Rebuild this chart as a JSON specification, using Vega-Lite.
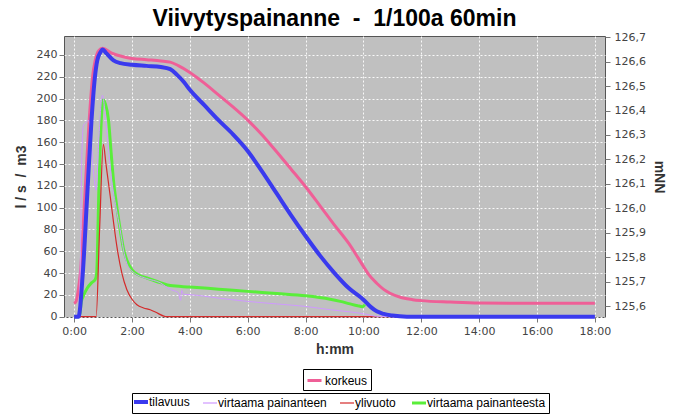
{
  "$schema": "https://vega.github.io/schema/vega-lite/v6.json",
  "width": 541,
  "height": 281,
  "autosize": {"type": "none"},
  "padding": {"left": 64, "top": 36, "right": 73, "bottom": 100},
  "background": "white",
  "title": {
    "text": "Viivytyspainanne \u00a0-\u00a0 1/100a 60min",
    "font": "Liberation Sans",
    "fontSize": 23,
    "fontWeight": "bold",
    "color": "black",
    "anchor": "middle",
    "offset": 9,
    "dy": 9
  },
  "config": {
    "view": {"fill": "#c0c0c0", "stroke": "#555555", "strokeWidth": 1},
    "axis": {
      "labelFont": "DejaVu Sans",
      "labelFontSize": 11,
      "labelColor": "#444444",
      "titleFont": "Liberation Sans",
      "titleFontSize": 14,
      "titleFontWeight": "bold",
      "titleColor": "#333333",
      "tickColor": "#777777",
      "tickSize": 5,
      "domain": false,
      "gridColor": "#ffffff",
      "gridDash": [2, 2],
      "gridOpacity": 0.9,
      "labelPadding": 2
    },
    "legend": {
      "orient": "none",
      "direction": "horizontal",
      "strokeColor": "black",
      "fillColor": "white",
      "padding": 3,
      "labelFont": "Liberation Sans",
      "labelFontSize": 12,
      "labelColor": "black",
      "symbolType": "stroke",
      "symbolSize": 196,
      "columnPadding": 10,
      "labelOffset": 2,
      "labelLimit": 300,
      "title": null
    }
  },
  "datasets": {
    "level": [
      {"s": "korkeus", "t": 0, "v": 125.61},
      {"s": "korkeus", "t": 0.07, "v": 125.62},
      {"s": "korkeus", "t": 0.15, "v": 125.67},
      {"s": "korkeus", "t": 0.22, "v": 125.74},
      {"s": "korkeus", "t": 0.37, "v": 126.05},
      {"s": "korkeus", "t": 0.52, "v": 126.36},
      {"s": "korkeus", "t": 0.64, "v": 126.54},
      {"s": "korkeus", "t": 0.72, "v": 126.6},
      {"s": "korkeus", "t": 0.85, "v": 126.645},
      {"s": "korkeus", "t": 0.98, "v": 126.655},
      {"s": "korkeus", "t": 1.3, "v": 126.635},
      {"s": "korkeus", "t": 1.7, "v": 126.62},
      {"s": "korkeus", "t": 2.0, "v": 126.613},
      {"s": "korkeus", "t": 2.5, "v": 126.608},
      {"s": "korkeus", "t": 3.0, "v": 126.603},
      {"s": "korkeus", "t": 3.32, "v": 126.598},
      {"s": "korkeus", "t": 3.6, "v": 126.584},
      {"s": "korkeus", "t": 4.0, "v": 126.556},
      {"s": "korkeus", "t": 4.5, "v": 126.512},
      {"s": "korkeus", "t": 5.0, "v": 126.463},
      {"s": "korkeus", "t": 5.5, "v": 126.414},
      {"s": "korkeus", "t": 6.0, "v": 126.361},
      {"s": "korkeus", "t": 6.5, "v": 126.3},
      {"s": "korkeus", "t": 7.0, "v": 126.231},
      {"s": "korkeus", "t": 7.5, "v": 126.16},
      {"s": "korkeus", "t": 8.0, "v": 126.088},
      {"s": "korkeus", "t": 8.5, "v": 126.01},
      {"s": "korkeus", "t": 9.0, "v": 125.931},
      {"s": "korkeus", "t": 9.5, "v": 125.855},
      {"s": "korkeus", "t": 9.8, "v": 125.8},
      {"s": "korkeus", "t": 10.0, "v": 125.762},
      {"s": "korkeus", "t": 10.2, "v": 125.726},
      {"s": "korkeus", "t": 10.46, "v": 125.693},
      {"s": "korkeus", "t": 10.7, "v": 125.668},
      {"s": "korkeus", "t": 10.92, "v": 125.652},
      {"s": "korkeus", "t": 11.3, "v": 125.635},
      {"s": "korkeus", "t": 11.7, "v": 125.626},
      {"s": "korkeus", "t": 12.0, "v": 125.622},
      {"s": "korkeus", "t": 13.0, "v": 125.616},
      {"s": "korkeus", "t": 14.0, "v": 125.612},
      {"s": "korkeus", "t": 16.0, "v": 125.611},
      {"s": "korkeus", "t": 18.0, "v": 125.611}
    ],
    "flows": [
      {"s": "tilavuus", "t": 0, "v": 0},
      {"s": "tilavuus", "t": 0.15, "v": 0},
      {"s": "tilavuus", "t": 0.3, "v": 40},
      {"s": "tilavuus", "t": 0.45, "v": 110},
      {"s": "tilavuus", "t": 0.6, "v": 180},
      {"s": "tilavuus", "t": 0.72, "v": 220},
      {"s": "tilavuus", "t": 0.8, "v": 235},
      {"s": "tilavuus", "t": 0.9, "v": 242},
      {"s": "tilavuus", "t": 0.99, "v": 245},
      {"s": "tilavuus", "t": 1.1, "v": 242},
      {"s": "tilavuus", "t": 1.36, "v": 235},
      {"s": "tilavuus", "t": 1.6, "v": 232.5},
      {"s": "tilavuus", "t": 2.0, "v": 231},
      {"s": "tilavuus", "t": 2.5, "v": 230},
      {"s": "tilavuus", "t": 3.0, "v": 229},
      {"s": "tilavuus", "t": 3.32, "v": 227},
      {"s": "tilavuus", "t": 3.55, "v": 222},
      {"s": "tilavuus", "t": 3.8, "v": 215},
      {"s": "tilavuus", "t": 4.0, "v": 208},
      {"s": "tilavuus", "t": 4.5, "v": 194},
      {"s": "tilavuus", "t": 5.0, "v": 180},
      {"s": "tilavuus", "t": 5.5, "v": 167},
      {"s": "tilavuus", "t": 6.0, "v": 152},
      {"s": "tilavuus", "t": 6.5, "v": 133},
      {"s": "tilavuus", "t": 7.0, "v": 113},
      {"s": "tilavuus", "t": 7.5, "v": 93},
      {"s": "tilavuus", "t": 8.0, "v": 74},
      {"s": "tilavuus", "t": 8.5, "v": 56},
      {"s": "tilavuus", "t": 9.0, "v": 40},
      {"s": "tilavuus", "t": 9.5, "v": 26},
      {"s": "tilavuus", "t": 10.0, "v": 15.6},
      {"s": "tilavuus", "t": 10.25, "v": 9},
      {"s": "tilavuus", "t": 10.46, "v": 4.9},
      {"s": "tilavuus", "t": 10.7, "v": 2.5},
      {"s": "tilavuus", "t": 11.0, "v": 1},
      {"s": "tilavuus", "t": 11.5, "v": 0},
      {"s": "tilavuus", "t": 18.0, "v": 0},

      {"s": "virtaama painanteen", "t": 0, "v": 0},
      {"s": "virtaama painanteen", "t": 0.12, "v": 0},
      {"s": "virtaama painanteen", "t": 0.2, "v": 30},
      {"s": "virtaama painanteen", "t": 0.27, "v": 150},
      {"s": "virtaama painanteen", "t": 0.32, "v": 175},
      {"s": "virtaama painanteen", "t": 0.4, "v": 178},
      {"s": "virtaama painanteen", "t": 0.5, "v": 180},
      {"s": "virtaama painanteen", "t": 0.58, "v": 165},
      {"s": "virtaama painanteen", "t": 0.68, "v": 130},
      {"s": "virtaama painanteen", "t": 0.76, "v": 116},
      {"s": "virtaama painanteen", "t": 0.85, "v": 160},
      {"s": "virtaama painanteen", "t": 0.93, "v": 195},
      {"s": "virtaama painanteen", "t": 0.98, "v": 203},
      {"s": "virtaama painanteen", "t": 1.05, "v": 192},
      {"s": "virtaama painanteen", "t": 1.15, "v": 165},
      {"s": "virtaama painanteen", "t": 1.3, "v": 125},
      {"s": "virtaama painanteen", "t": 1.45, "v": 100},
      {"s": "virtaama painanteen", "t": 1.59, "v": 80},
      {"s": "virtaama painanteen", "t": 1.7, "v": 62},
      {"s": "virtaama painanteen", "t": 1.82, "v": 49},
      {"s": "virtaama painanteen", "t": 2.0, "v": 42},
      {"s": "virtaama painanteen", "t": 2.17, "v": 38.5},
      {"s": "virtaama painanteen", "t": 2.5, "v": 35},
      {"s": "virtaama painanteen", "t": 2.98, "v": 31},
      {"s": "virtaama painanteen", "t": 3.32, "v": 25},
      {"s": "virtaama painanteen", "t": 3.6, "v": 22},
      {"s": "virtaama painanteen", "t": 3.68, "v": 15},
      {"s": "virtaama painanteen", "t": 3.72, "v": 24},
      {"s": "virtaama painanteen", "t": 3.78, "v": 20.5},
      {"s": "virtaama painanteen", "t": 4.0, "v": 20.2},
      {"s": "virtaama painanteen", "t": 5.0, "v": 17},
      {"s": "virtaama painanteen", "t": 6.0, "v": 14},
      {"s": "virtaama painanteen", "t": 7.0, "v": 11.7},
      {"s": "virtaama painanteen", "t": 8.0, "v": 9.4},
      {"s": "virtaama painanteen", "t": 8.85, "v": 6.4},
      {"s": "virtaama painanteen", "t": 9.5, "v": 4.5},
      {"s": "virtaama painanteen", "t": 10.0, "v": 2.7},
      {"s": "virtaama painanteen", "t": 10.46, "v": 0.3},
      {"s": "virtaama painanteen", "t": 11.0, "v": 0},
      {"s": "virtaama painanteen", "t": 18.0, "v": 0},

      {"s": "ylivuoto", "t": 0, "v": 0},
      {"s": "ylivuoto", "t": 0.76, "v": 0},
      {"s": "ylivuoto", "t": 0.88, "v": 80},
      {"s": "ylivuoto", "t": 1.01, "v": 158},
      {"s": "ylivuoto", "t": 1.1, "v": 140},
      {"s": "ylivuoto", "t": 1.25, "v": 110},
      {"s": "ylivuoto", "t": 1.37, "v": 85},
      {"s": "ylivuoto", "t": 1.48, "v": 64},
      {"s": "ylivuoto", "t": 1.65, "v": 40},
      {"s": "ylivuoto", "t": 1.82, "v": 25},
      {"s": "ylivuoto", "t": 2.0, "v": 16},
      {"s": "ylivuoto", "t": 2.17, "v": 11},
      {"s": "ylivuoto", "t": 2.4, "v": 8},
      {"s": "ylivuoto", "t": 2.63, "v": 6.4},
      {"s": "ylivuoto", "t": 2.9, "v": 3},
      {"s": "ylivuoto", "t": 3.1, "v": 0.5},
      {"s": "ylivuoto", "t": 3.2, "v": 0},
      {"s": "ylivuoto", "t": 18.0, "v": 0},

      {"s": "virtaama painanteesta", "t": 0, "v": 0},
      {"s": "virtaama painanteesta", "t": 0.18, "v": 0},
      {"s": "virtaama painanteesta", "t": 0.25, "v": 14},
      {"s": "virtaama painanteesta", "t": 0.32, "v": 19},
      {"s": "virtaama painanteesta", "t": 0.45, "v": 26},
      {"s": "virtaama painanteesta", "t": 0.6, "v": 31},
      {"s": "virtaama painanteesta", "t": 0.73, "v": 34},
      {"s": "virtaama painanteesta", "t": 0.78, "v": 40},
      {"s": "virtaama painanteesta", "t": 0.85, "v": 110},
      {"s": "virtaama painanteesta", "t": 0.93, "v": 175},
      {"s": "virtaama painanteesta", "t": 1.0, "v": 199},
      {"s": "virtaama painanteesta", "t": 1.08, "v": 195},
      {"s": "virtaama painanteesta", "t": 1.19, "v": 180},
      {"s": "virtaama painanteesta", "t": 1.28, "v": 150},
      {"s": "virtaama painanteesta", "t": 1.36, "v": 125},
      {"s": "virtaama painanteesta", "t": 1.48, "v": 100},
      {"s": "virtaama painanteesta", "t": 1.59, "v": 80},
      {"s": "virtaama painanteesta", "t": 1.7, "v": 63},
      {"s": "virtaama painanteesta", "t": 1.82, "v": 52},
      {"s": "virtaama painanteesta", "t": 2.0, "v": 43},
      {"s": "virtaama painanteesta", "t": 2.25, "v": 38},
      {"s": "virtaama painanteesta", "t": 2.52, "v": 35.5},
      {"s": "virtaama painanteesta", "t": 3.0, "v": 31},
      {"s": "virtaama painanteesta", "t": 3.32, "v": 28.5},
      {"s": "virtaama painanteesta", "t": 4.0, "v": 27.2},
      {"s": "virtaama painanteesta", "t": 5.0, "v": 25.2},
      {"s": "virtaama painanteesta", "t": 6.0, "v": 23.2},
      {"s": "virtaama painanteesta", "t": 7.0, "v": 21.2},
      {"s": "virtaama painanteesta", "t": 8.0, "v": 19.2},
      {"s": "virtaama painanteesta", "t": 8.85, "v": 16},
      {"s": "virtaama painanteesta", "t": 9.2, "v": 14},
      {"s": "virtaama painanteesta", "t": 9.5, "v": 12},
      {"s": "virtaama painanteesta", "t": 9.8, "v": 10},
      {"s": "virtaama painanteesta", "t": 9.97, "v": 9.2},
      {"s": "virtaama painanteesta", "t": 10.05, "v": 11}
    ]
  },
  "encoding": {
    "x": {
      "field": "t",
      "type": "quantitative",
      "scale": {"domain": [-0.35, 18.35], "nice": false, "zero": false},
      "axis": {
        "values": [0, 2, 4, 6, 8, 10, 12, 14, 16, 18],
        "labelExpr": "datum.value + ':00'",
        "title": "h:mm",
        "grid": true,
        "labelPadding": 3,
        "titlePadding": 6
      }
    }
  },
  "layer": [
    {
      "data": {"name": "level"},
      "mark": {"type": "line", "strokeWidth": 3, "interpolate": "monotone"},
      "encoding": {
        "y": {
          "field": "v",
          "type": "quantitative",
          "scale": {"domain": [125.555, 126.705], "nice": false, "zero": false},
          "axis": {
            "orient": "right",
            "values": [125.6, 125.7, 125.8, 125.9, 126.0, 126.1, 126.2, 126.3, 126.4, 126.5, 126.6, 126.7],
            "labelExpr": "replace(format(datum.value, '.1f'), '.', ',')",
            "title": "mNN",
            "grid": false,
            "labelPadding": 4,
            "titlePadding": 6
          }
        },
        "color": {
          "field": "s",
          "type": "nominal",
          "scale": {"domain": ["korkeus"], "range": ["#ef5f97"]},
          "legend": {"legendX": 239, "legendY": 333, "symbolStrokeWidth": 3}
        }
      }
    },
    {
      "data": {"name": "flows"},
      "encoding": {
        "y": {
          "field": "v",
          "type": "quantitative",
          "scale": {"domain": [-0.3, 257.4], "nice": false, "zero": false},
          "axis": {
            "orient": "left",
            "values": [0, 20, 40, 60, 80, 100, 120, 140, 160, 180, 200, 220, 240],
            "title": "l / s \u00a0/\u00a0 m3",
            "grid": true,
            "titlePadding": 8
          }
        },
        "color": {
          "field": "s",
          "type": "nominal",
          "scale": {
            "domain": ["tilavuus", "virtaama painanteen", "ylivuoto", "virtaama painanteesta"],
            "range": ["#3a3aee", "#cf99ff", "#d42a2a", "#5aee3a"]
          },
          "legend": {
            "legendX": 68,
            "legendY": 357,
            "columns": 4,
            "encode": {
              "symbols": {
                "update": {
                  "strokeWidth": {"signal": "datum.value === 'tilavuus' ? 4 : (datum.value === 'virtaama painanteesta' ? 3 : 1.2)"}
                }
              }
            }
          }
        }
      },
      "layer": [
        {
          "transform": [{"filter": {"field": "s", "equal": "virtaama painanteesta"}}],
          "mark": {"type": "line", "interpolate": "monotone", "strokeWidth": 3}
        },
        {
          "transform": [{"filter": {"field": "s", "equal": "ylivuoto"}}],
          "mark": {"type": "line", "interpolate": "monotone", "strokeWidth": 1.2}
        },
        {
          "transform": [{"filter": {"field": "s", "equal": "virtaama painanteen"}}],
          "mark": {"type": "line", "interpolate": "monotone", "strokeWidth": 1}
        },
        {
          "transform": [{"filter": {"field": "s", "equal": "tilavuus"}}],
          "mark": {"type": "line", "interpolate": "monotone", "strokeWidth": 4}
        }
      ]
    }
  ],
  "resolve": {"scale": {"y": "independent", "color": "independent"}}
}
